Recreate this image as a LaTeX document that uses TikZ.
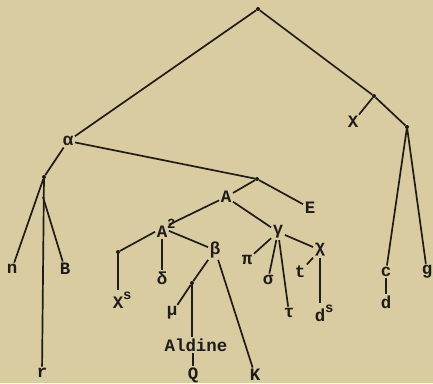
\documentclass[tikz,border=0pt]{standalone}
\usepackage{fontspec}
\setmainfont{Liberation Mono}
\definecolor{paper}{RGB}{217,204,160}
\definecolor{ink}{RGB}{30,28,24}
\newcommand{\supx}[1]{\rlap{\raisebox{1.0ex}{\fontsize{14}{15}\selectfont #1}}}
\tikzset{
    ms/.style={font=\fontsize{17.5}{18}\selectfont\bfseries, text=ink, inner sep=1.5pt},
    knot/.style={circle, fill=ink, inner sep=0pt, minimum size=4pt},
    branch/.style={draw=ink, line width=1.7pt},
}
\begin{document}
\begin{tikzpicture}[x=1bp, y=-1bp]

    \fill[paper] (0,0) rectangle (433,383);
    \useasboundingbox (0,0) rectangle (433,383);

    % -------------------------------
    % Archetyp und rechter Ast
    % -------------------------------
    \node[knot] (top) at (258,9) {};
    \node[knot] (xk) at (374,96) {};
    \node[knot] (cg) at (407,127) {};
    \node[ms] (X) at (353,122) {X};
    \node[ms] (c) at (386,272) {c};
    \node[ms] (d) at (386,302) {d};
    \node[ms] (g) at (427,272) {g};

    \draw[branch] (top) -- (xk) -- (cg);
    \draw[branch] (xk) -- (X);
    \draw[branch] (cg) -- (c);
    \draw[branch] (cg) -- (g);
    \draw[branch] (c) -- (d);

    % -------------------------------
    % linker Ast
    % -------------------------------
    \node[ms] (al) at (68,141) {α};
    \node[knot] (lk) at (44,177) {};
    \coordinate (bB) at (43,197);
    \node[ms] (n) at (12,269) {n};
    \node[ms] (B) at (65,269) {B};
    \node[ms] (r) at (42,373) {r};

    \draw[branch] (top) -- (al);
    \draw[branch] (al) -- (lk);
    \draw[branch] (lk) -- (n);
    \draw[branch] (lk) -- (r);
    \draw[branch] (bB) -- (B);

    % -------------------------------
    % mittlere Gruppe
    % -------------------------------
    \node[knot] (ak) at (257,179) {};
    \node[ms] (A) at (226,197) {A};
    \node[ms] (E) at (310,208) {E};
    \node[ms] (A2) at (162,228) {A\supx{2}};
    \node[ms] (gam) at (278,232) {γ};
    \node[ms] (beta) at (215,250) {β};

    \draw[branch] (al) -- (ak);
    \draw[branch] (ak) -- (A);
    \draw[branch] (ak) -- (E);
    \draw[branch] (A) -- (A2);
    \draw[branch] (A) -- (gam);

    % A2 und seine Zweige
    \node[knot] (xk2) at (118,252) {};
    \node[ms] (Xs) at (118,300) {X\supx{s}};
    \node[ms] (del) at (162,278) {δ};
    \node[knot] (bk) at (192,283) {};
    \node[ms] (mu) at (172,313) {μ};
    \node[ms] (ald) at (196,345) {Aldine};
    \node[ms] (Q) at (193,375) {Q};
    \node[ms] (K) at (255,375) {K};

    \draw[branch] (A2) -- (xk2) -- (Xs);
    \draw[branch] (A2) -- (del);
    \draw[branch] (A2) -- (beta);
    \draw[branch] (beta) -- (bk) -- (mu);
    \draw[branch] (bk) -- (bk |- ald.north);
    \draw[branch] (ald.south -| Q) -- (Q);
    \draw[branch] (beta) -- (K);

    % gamma und seine Zweige
    \node[ms] (pi) at (247,260) {π};
    \node[ms] (sig) at (268,280) {σ};
    \node[ms] (tau) at (289,313) {τ};
    \node[ms] (chi) at (320,250) {χ};
    \node[ms] (t) at (300,272) {t};
    \node[ms] (ds) at (320,313) {d\supx{s}};

    \draw[branch] (gam) -- (pi);
    \draw[branch] (gam) -- (sig);
    \draw[branch] (gam) -- (tau);
    \draw[branch] (gam) -- (chi);
    \draw[branch] (chi) -- (t);
    \draw[branch] (chi) -- (ds);

\end{tikzpicture}
\end{document}
